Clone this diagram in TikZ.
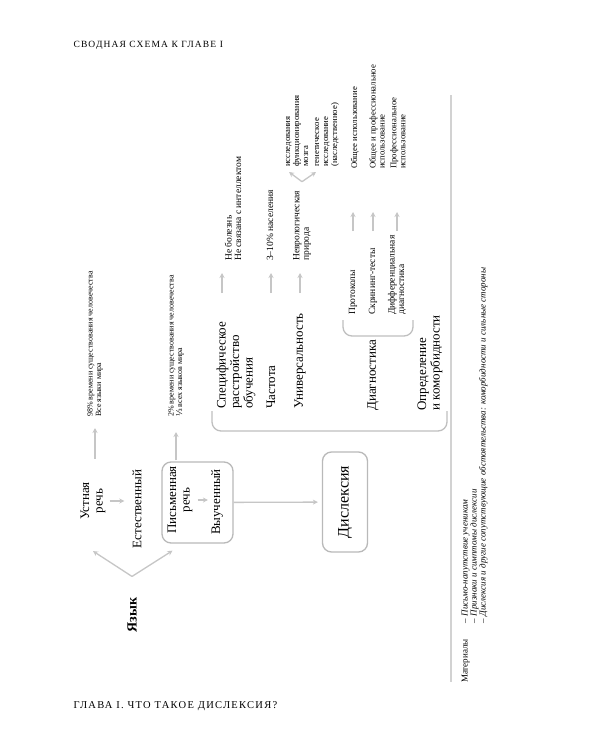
\documentclass[tikz,border=0pt]{standalone}
\usepackage{fontspec}
\setmainfont{Liberation Serif}
\newfontfamily\fracfont{DejaVu Serif}
\usetikzlibrary{positioning, arrows.meta}
\tikzset{
  lbl/.style={
    rotate=90, anchor=west, align=left, inner sep=1pt,
    font=\fontsize{13}{13.5}\selectfont
  },
  subl/.style={
    rotate=90, anchor=west, align=left, inner sep=1pt,
    font=\fontsize{9.5}{9.5}\selectfont
  },
  note/.style={
    rotate=90, anchor=west, align=left, inner sep=1pt,
    font=\fontsize{8}{8.5}\selectfont
  },
  snote/.style={
    rotate=90, anchor=west, align=left, inner sep=1pt,
    font=\fontsize{8.7}{9}\selectfont
  },
  rbox/.style={draw=gray!55, line width=1.3pt, rounded corners=9pt, rotate=90},
  garr/.style={-{Stealth[length=5pt, width=5pt]}, draw=gray!45, line width=1.3pt},
  brk/.style={draw=gray!50, line width=1.3pt, rounded corners=9pt},
  caps/.style={anchor=base west, font=\fontsize{9.5}{9.5}\selectfont\addfontfeature{LetterSpace=12}},
}
\begin{document}
\begin{tikzpicture}[x=1pt, y=-1pt]
  \fill[white] (0,0) rectangle (600,750);
  \useasboundingbox (0,0) rectangle (600,750);

  \node[caps] (head) at (70,47) {СВОДНАЯ СХЕМА К ГЛАВЕ I};
  \node[caps, font=\fontsize{10.5}{10.5}\selectfont\addfontfeature{LetterSpace=12}] (foot) at (70,708) {ГЛАВА I. ЧТО ТАКОЕ ДИСЛЕКСИЯ?};

  % language
  \node[lbl, anchor=center, font=\bfseries\fontsize{14}{14}\selectfont] (lang) at (132,615) {Язык};
  \node[lbl, anchor=center, align=center] (oral) at (93,501) {Устная\\речь};
  \node[lbl, anchor=center] (natural) at (137,509) {Естественный};
  \node[note] (oralnote) at (95,418) {98\% времени существования человечества\\Все языки мира};
  \node[lbl, anchor=center, align=center] (written) at (180,500) {Письменная\\речь};
  \node[lbl, anchor=center] (learned) at (217,502) {Выученный};
  \node[rbox, minimum width=81pt, minimum height=71pt] (wbox) at (197.5,502.5) {};
  \node[note] (writnote) at (176,418) {2\% времени существования человечества\\{\fracfont ⅓} всех языков мира};

  \coordinate (fork) at ([yshift=20pt]lang.east);
  \draw[garr] (fork) -- ([yshift=-30pt]oral.west);
  \draw[garr] (fork) -- ([shift={(-25pt,-7pt)}]wbox.west);
  \draw[garr, shorten <=22pt, shorten >=10pt] (oral.east -| oralnote.west) -- (oralnote.west);
  \draw[garr, shorten <=3pt, shorten >=7pt] (oral.south) -- (oral.south -| natural.north);
  \draw[garr, shorten <=4pt, shorten >=2pt] (written.south) -- (written.south -| learned.north);
  \draw[garr, shorten <=1pt, shorten >=14pt] (wbox.east -| writnote.west) -- (writnote.west);

  % dyslexia
  \node[rbox, minimum width=100pt, minimum height=45pt,
        font=\fontsize{16}{16}\selectfont] (dys) at (345,502) {Дислексия};
  \draw[garr, shorten >=4pt] (wbox) -- (dys);

  \draw[brk] (212,411) |- (330,431) -| (447,411);
  \node[lbl] (spec) at (236,410) {Специфическое\\расстройство\\обучения};
  \node[lbl] (freq) at (271,410) {Частота};
  \node[lbl] (univ) at (300,410) {Универсальность};
  \node[lbl] (diag) at (373,412) {Диагностика};
  \node[lbl] (defn) at (430,412) {Определение\\и коморбидности};

  \node[subl] (specnote) at (233,262) {Не болезнь\\Не связана с интеллектом};
  \node[subl] (freqnote) at (270,262) {3–10\% населения};
  \node[subl] (univnote) at (302,262) {Неврологическая\\природа};
  \node[snote] (brain) at (297,168) {исследования\\функционирования\\мозга};
  \node[snote] (genes) at (327,168) {генетическое\\исследование\\(наследственное)};

  \draw[garr] ([shift={(-14pt,-31pt)}]spec.east |- specnote.west) -- ([shift={(-14pt,-11pt)}]spec.east |- specnote.west);
  \draw[garr] ([yshift=-31pt]freq.east |- freqnote.west) -- ([yshift=-11pt]freq.east |- freqnote.west);
  \draw[garr] ([yshift=-31pt]univ.east |- univnote.west) -- ([yshift=-11pt]univ.east |- univnote.west);
  \coordinate (nfork) at ([yshift=8pt]univnote.east);
  \draw[garr] (nfork) -- ([shift={(-8pt,-4pt)}]brain.west);
  \draw[garr] (nfork) -- ([shift={(-11pt,-4pt)}]genes.west);

  % diagnostics
  \draw[brk] (343,320) |- (378,336) -| (413,320);
  \node[subl] (proto) at (353,316) {Протоколы};
  \node[subl] (screen) at (373,316) {Скрининг-тесты};
  \node[subl] (diff) at (397,316) {Дифференциальная\\диагностика};
  \node[snote] (genuse) at (355,170) {Общее использование};
  \node[snote] (mixuse) at (377,170) {Общее и профессиональное\\использование};
  \node[snote] (prouse) at (398,170) {Профессиональное\\использование};
  \draw[garr] ([yshift=-61pt]proto.east |- genuse.west) -- ([yshift=-42pt]proto.east |- genuse.west);
  \draw[garr] ([yshift=-61pt]screen.east |- mixuse.west) -- ([yshift=-42pt]screen.east |- mixuse.west);
  \draw[garr] ([yshift=-61pt]diff.east |- prouse.west) -- ([yshift=-42pt]diff.east |- prouse.west);

  % materials
  \draw[gray!35, line width=1.5pt] (451,95) -- (451,682);
  \node[rotate=90, anchor=north west, inner sep=0pt, font=\fontsize{9}{9}\selectfont] (mat) at (461,683)
    {\begin{tabular}{@{}l@{\hspace{16pt}}l@{}}
      Материалы & \textit{– Письмо-напутствие ученикам}\\
      & \textit{– Признаки и симптомы дислексии}\\
      & \textit{– Дислексия и другие сопутствующие обстоятельства: коморбидности и сильные стороны}
    \end{tabular}};
\end{tikzpicture}
\end{document}
